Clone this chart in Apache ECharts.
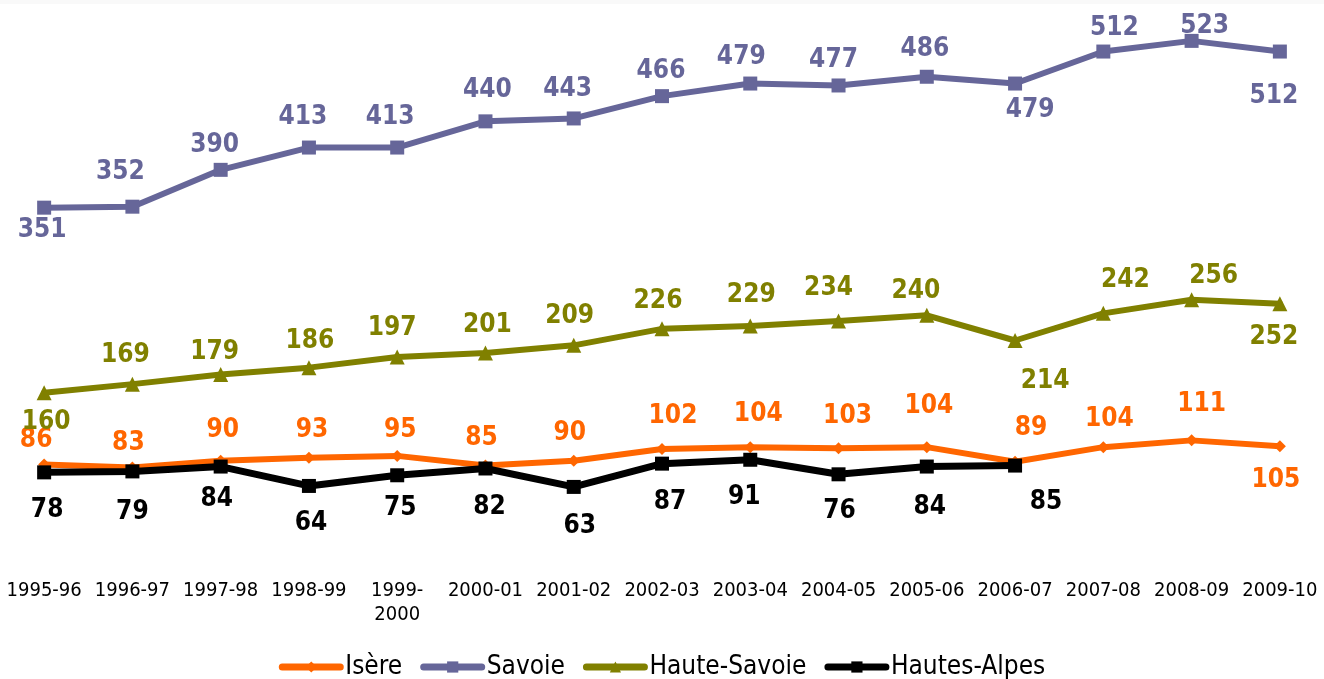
<!DOCTYPE html>
<html>
<head>
<meta charset="utf-8">
<script src="https://cdn.jsdelivr.net/npm/echarts@6/dist/echarts.min.js"></script>
<style>
  html, body { margin: 0; padding: 0; background: #fff; }
  #chart { width: 1324px; height: 679px; }
</style>
</head>
<body>
<div id="chart"></div>
<script>
// Seasons on the x axis
const seasons = ['1995-96', '1996-97', '1997-98', '1998-99', '1999-\n2000', '2000-01', '2001-02',
  '2002-03', '2003-04', '2004-05', '2005-06', '2006-07', '2007-08', '2008-09', '2009-10'];

// Values per département
const isere = [86, 83, 90, 93, 95, 85, 90, 102, 104, 103, 104, 89, 104, 111, 105];
const savoie = [351, 352, 390, 413, 413, 440, 443, 466, 479, 477, 486, 479, 512, 523, 512];
const hauteSavoie = [160, 169, 179, 186, 197, 201, 209, 226, 229, 234, 240, 214, 242, 256, 252];
const hautesAlpes = [78, 79, 84, 64, 75, 82, 63, 87, 91, 76, 84, 85, null, null, null];

// Label placement: [dx, dy] of each value label's centre from its point
const isereLabelShift = [[-8,-24],[-4,-24],[2,-30],[3,-28],[3,-26],[-4,-27],[-4,-27],[11,-33],[8,-33],[9,-32],[2,-41],[16,-33],[6,-28],[10,-36],[-4,34]];
const savoieLabelShift = [[-2,23],[-12,-34],[-6,-25],[-6,-30],[-7,-30],[2,-31],[-6,-29],[-1,-25],[-9,-26],[-5,-25],[-2,-28],[15,27],[11,-23],[13,-15],[-6,45]];
const hauteSavoieLabelShift = [[2,29],[-7,-29],[-6,-22],[1,-26],[-5,-29],[2,-28],[-4,-29],[-4,-28],[1,-31],[-10,-33],[-11,-24],[30,41],[22,-33],[22,-24],[-6,34]];
const hautesAlpesLabelShift = [[3,38],[0,41],[-4,33],[2,37],[3,33],[4,39],[6,39],[8,39],[-6,37],[1,37],[3,41],[31,37]];

const LABEL_FONT = 'DejaVu Sans Condensed';

function makeSeries(name, values, shifts, color, symbol, symbolSize, lineWidth) {
  return {
    name: name,
    type: 'line',
    data: values.map((v, i) => ({
      value: v,
      label: { offset: shifts[i] || [0, 0] }
    })),
    symbol: symbol,
    symbolSize: symbolSize,
    showAllSymbol: true,
    connectNulls: false,
    lineStyle: { color: color, width: lineWidth, cap: 'round', join: 'round' },
    itemStyle: { color: color, borderWidth: 0 },
    label: {
      show: true,
      position: 'inside',
      color: color,
      fontFamily: LABEL_FONT,
      fontWeight: 'bold',
      fontSize: 26
    },
    emphasis: { disabled: true }
  };
}

const chart = echarts.init(document.getElementById('chart'));
chart.setOption({
  animation: false,
  backgroundColor: '#ffffff',
  graphic: [{
    type: 'rect',
    shape: { x: 0, y: 0, width: 1324, height: 4 },
    style: { fill: '#f9f9f9' },
    silent: true,
    z: -1
  }],
  grid: { left: 0, right: 0, top: 5, bottom: 131, containLabel: false },
  xAxis: {
    type: 'category',
    data: seasons,
    boundaryGap: true,
    axisLine: { show: false },
    axisTick: { show: false },
    axisLabel: {
      interval: 0,
      margin: 31,
      color: '#000',
      fontFamily: LABEL_FONT,
      fontSize: 20,
      lineHeight: 24
    }
  },
  yAxis: {
    type: 'value',
    min: 0,
    max: 560,
    show: false,
    splitLine: { show: false }
  },
  legend: {
    bottom: -6,
    left: 'center',
    itemWidth: 58,
    itemHeight: 14,
    itemGap: 18,
    lineStyle: { width: 7, cap: 'round' },
    textStyle: { fontFamily: LABEL_FONT, fontSize: 26, color: '#000' },
    data: ['Isère', 'Savoie', 'Haute-Savoie', 'Hautes-Alpes']
  },
  series: [
    makeSeries('Isère', isere, isereLabelShift, '#FF6600', 'diamond', 12, 6),
    makeSeries('Savoie', savoie, savoieLabelShift, '#666699', 'rect', 14, 6),
    makeSeries('Haute-Savoie', hauteSavoie, hauteSavoieLabelShift, '#808000', 'triangle', 15, 6),
    makeSeries('Hautes-Alpes', hautesAlpes, hautesAlpesLabelShift, '#000000', 'rect', 14, 7)
  ]
});
</script>
</body>
</html>
